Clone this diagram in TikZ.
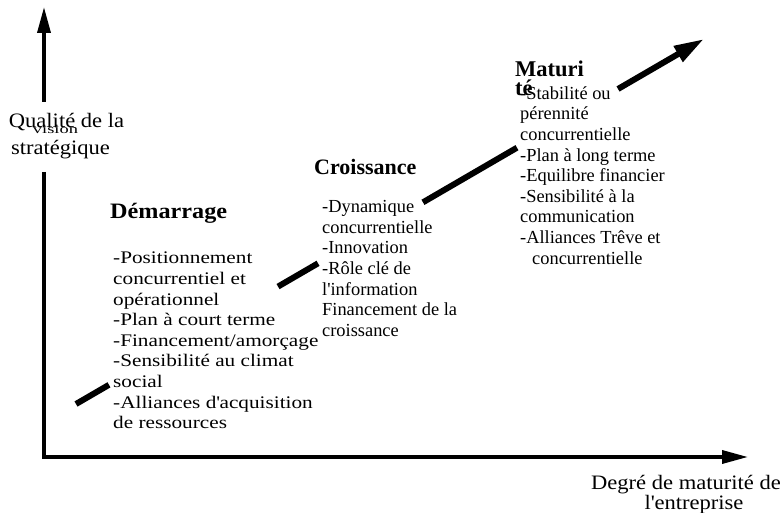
\documentclass[tikz,border=0pt]{standalone}
\usepackage{fontspec}
\setmainfont{Liberation Serif}
\newfontfamily\etirefont{Liberation Serif}[FakeStretch=1.2]
\newfontfamily\titrefont{Liberation Serif}[FakeStretch=1.1]
\newfontfamily\serrefont{Liberation Serif}[FakeStretch=1.45]
\usetikzlibrary{calc, arrows.meta}
\tikzset{
  axe/.style = {line width=3.5pt, -{Triangle[length=26pt, width=13pt]}},
  tendance/.style = {line width=6pt},% la fleche epaisse
  axe_txt/.style = {inner sep=0pt, anchor=base,
    font=\titrefont\fontsize{20.5}{18}\selectfont},
  phase/.style = {inner sep=0pt, anchor=base west,
    font=\bfseries\fontsize{22}{19}\selectfont},
  liste/.style = {inner sep=0pt, anchor=north west, align=left,
    font=\fontsize{18.4}{20.6}\selectfont}
}

\begin{document}
\begin{tikzpicture}[x=1pt, y=-1pt]
\useasboundingbox (0,0) rectangle (780,513);

% axes
\coordinate (o) at (44,457);
\coordinate (ytip) at (44,7);
\coordinate (xtip) at (748,457);
\coordinate (ybas) at (44,172);
\coordinate (yhaut) at (44,102);
\draw[axe] (yhaut) -- (ytip);
\draw[axe] (ybas) |- (xtip);

\node[axe_txt] (qy1) at (66.5,128) {Qualité de la};
\node[axe_txt, font=\serrefont\fontsize{12.7}{12.7}\selectfont] (qy2) at (55.5,134) {vision};
\node[axe_txt] (qy3) at (60.5,155) {stratégique};
\node[axe_txt, anchor=north, align=center] (qx) at (686,475)
  {Degré de maturité de\\\hspace*{16pt}l\textquotesingle entreprise};

% fleche de tendance, coupee par les textes
\coordinate (t0) at (76,404);
\coordinate (t1) at (704,39);
\foreach \a/\b in {0/0.0525, 0.3217/0.3854, 0.5525/0.7022}
  \draw[tendance] ($(t0)!\a!(t1)$) -- ($(t0)!\b!(t1)$);
\draw[tendance, -{Triangle[length=30pt, width=17pt]}] ($(t0)!0.8631!(t1)$) -- (t1);

% phases
\node[phase, font=\titrefont\bfseries\fontsize{22}{19}\selectfont] (dem) at (110,219) {Démarrage};
\node[liste, font=\etirefont\fontsize{17.7}{20.6}\selectfont] (dem_l) at (113,251.9)
  {-Positionnement\\concurrentiel et\\opérationnel\\-Plan à court terme\\
   -Financement/amorçage\\-Sensibilité au climat\\social\\
   -Alliances d\textquotesingle acquisition\\de ressources};

\node[phase] (cro) at (314,175) {Croissance};
\node[liste] (cro_l) at (322,200.4)
  {-Dynamique\\concurrentielle\\-Innovation\\-Rôle clé de\\
   l\textquotesingle information\\Financement de la\\croissance};

\node[liste] (mat_l) at (520,86.4)
  {-Stabilité ou\\pérennité\\concurrentielle\\-Plan à long terme\\
   -Equilibre financier\\-Sensibilité à la\\communication\\
   -Alliances Trêve et\\\hspace*{12pt}concurrentielle};
\node[phase, anchor=north west, align=left, font=\bfseries\fontsize{22.5}{19}\selectfont]
  (mat) at (515,60.5) {Maturi\\té};
\end{tikzpicture}
\end{document}
